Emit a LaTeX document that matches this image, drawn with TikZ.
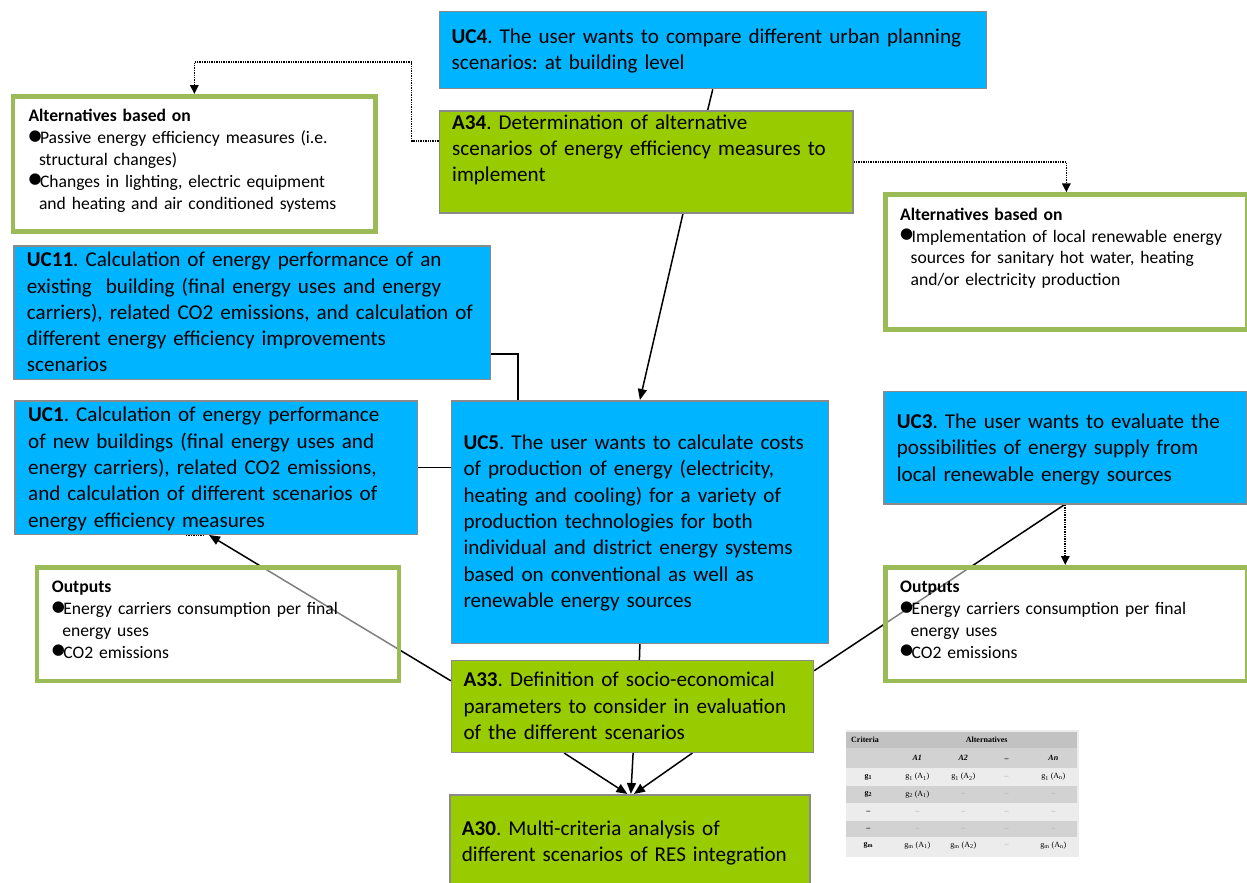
\documentclass[tikz,border=0pt]{standalone}
\usepackage{fontspec}
\setmainfont{Carlito}
\newfontfamily\symfont{DejaVu Sans}
\newfontfamily\tabfont{Liberation Serif}
\usetikzlibrary{arrows.meta}
\frenchspacing

\definecolor{ucblue}{RGB}{0,180,255}
\definecolor{actgreen}{RGB}{153,204,0}
\definecolor{edgegray}{RGB}{138,138,138}
\definecolor{notegreen}{RGB}{155,187,89}
\definecolor{hdrgray}{RGB}{194,194,194}
\definecolor{rowgray}{RGB}{210,210,210}
\definecolor{rowlight}{RGB}{236,236,236}
\definecolor{dashgray}{RGB}{165,165,165}

\pgfdeclarelayer{links}
\pgfsetlayers{links,main}

% first-line struts fix the top of each text block
\newcommand\firstbig{\rule{0pt}{18pt}}
\newcommand\firstsmall{\rule{0pt}{14.5pt}}
% bullets and hanging indent for the note boxes
\newcommand\blt{\makebox[11.5pt][l]{\raisebox{3.4pt}{\symfont\fontsize{15}{15}\selectfont ●}}}
\newcommand\bltin{\hspace*{10.5pt}}

\begin{document}
\begin{tikzpicture}[x=1pt,y=-1pt,
  every node/.style={inner sep=0pt},
  ucbox/.style={draw=edgegray, line width=1.5pt, fill=ucblue, anchor=north west},
  actbox/.style={draw=edgegray, line width=1.5pt, fill=actgreen, anchor=north west},
  altbox/.style={draw=notegreen, line width=4.7pt, fill=white, anchor=north west},
  outbox/.style={draw=notegreen, line width=4.7pt, fill=white, fill opacity=0.5, draw opacity=1, anchor=north west},
  bigtxt/.style={anchor=north west, align=left, text width=600pt, font=\fontsize{21.1}{26.3}\selectfont},
  smalltxt/.style={anchor=north west, align=left, text width=400pt, font=\fontsize{17.6}{21.8}\selectfont},
  link/.style={draw=black, line width=1.5pt},
  arrowlink/.style={link, -{Triangle[length=11pt,width=9pt]}},
  dotlink/.style={draw=black, line width=1.7pt, dash pattern=on 1.4pt off 1pt},
  dotarrow/.style={dotlink, -{Triangle[length=9pt,width=8.5pt]}},
  tabtxt/.style={font=\tabfont\fontsize{8}{9}\selectfont},
  tabhead/.style={font=\tabfont\bfseries\fontsize{8}{9}\selectfont},
  tabdash/.style={font=\tabfont\fontsize{8}{9}\selectfont, text=dashgray},
]
\useasboundingbox (0,0) rectangle (1247,883);
\clip (0,0) rectangle (1247,883);

% ---- use-case boxes (blue) ----
\node[ucbox, minimum width=547pt, minimum height=77pt] (uc4) at (438.5,10.8) {};
\node[bigtxt] (uc4-text) at (451.5,25) {\firstbig\textbf{UC4}. The user wants to compare different urban planning\\scenarios: at building level};

\node[ucbox, minimum width=476.5pt, minimum height=133.5pt] (uc11) at (13,245) {};
\node[bigtxt] (uc11-text) at (26.7,248.5) {\firstbig\textbf{UC11}. Calculation of energy performance of an\\existing\ \ building (final energy uses and energy\\carriers), related CO2 emissions, and calculation of\\different energy efficiency improvements\\scenarios};

\node[ucbox, minimum width=402.5pt, minimum height=133.5pt] (uc1) at (14,400) {};
\node[bigtxt] (uc1-text) at (28,403.7) {\firstbig\textbf{UC1}. Calculation of energy performance\\of new buildings (final energy uses and\\energy carriers), related CO2 emissions,\\and calculation of different scenarios of\\energy efficiency measures};

\node[ucbox, minimum width=376.7pt, minimum height=242.5pt] (uc5) at (450.8,400) {};
\node[bigtxt] (uc5-text) at (463.3,431.3) {\firstbig\textbf{UC5}. The user wants to calculate costs\\of production of energy (electricity,\\heating and cooling) for a variety of\\production technologies for both\\individual and district energy systems\\based on conventional as well as\\renewable energy sources};

\node[ucbox, minimum width=363pt, minimum height=112.5pt] (uc3) at (883,390.8) {};
\node[bigtxt] (uc3-text) at (896.7,410.3) {\firstbig\textbf{UC3}. The user wants to evaluate the\\possibilities of energy supply from\\local renewable energy sources};

% ---- activity boxes (green) ----
\node[actbox, minimum width=413.5pt, minimum height=102pt] (a34) at (438.5,110) {};
\node[bigtxt] (a34-text) at (452,111) {\firstbig\textbf{A34}. Determination of alternative\\scenarios of energy efficiency measures to\\implement};

\node[actbox, minimum width=361.7pt, minimum height=91.7pt] (a33) at (450.8,659.8) {};
\node[bigtxt] (a33-text) at (463.3,668.7) {\firstbig\textbf{A33}. Definition of socio-economical\\parameters to consider in evaluation\\of the different scenarios};

\node[actbox, minimum width=360.3pt, minimum height=100pt] (a30) at (449,794) {};
\node[bigtxt] (a30-text) at (461.7,817) {\firstbig\textbf{A30}. Multi-criteria analysis of\\different scenarios of RES integration};

% ---- note boxes ----
\node[altbox, minimum width=362.6pt, minimum height=135.3pt] (altL) at (10.7,94) {};
\node[smalltxt] (altL-text) at (28.3,107.2) {\firstsmall\textbf{Alternatives based on}\\\blt Passive energy efficiency measures (i.e.\\\bltin structural changes)\\\blt Changes in lighting, electric equipment\\\bltin and heating and air conditioned systems};

\node[altbox, minimum width=361.4pt, minimum height=134.7pt] (altR) at (883.3,192.3) {};
\node[smalltxt] (altR-text) at (900,205.5) {\firstsmall\textbf{Alternatives based on}\\\blt Implementation of local renewable energy\\\bltin sources for sanitary hot water, heating\\\bltin and/or electricity production};

\node[outbox, minimum width=362pt, minimum height=113.7pt] (outL) at (34.7,565) {};
\node[smalltxt] (outL-text) at (51.7,578.2) {\firstsmall\textbf{Outputs}\\\blt Energy carriers consumption per final\\\bltin energy uses\\\blt CO2 emissions};

\node[outbox, minimum width=361.4pt, minimum height=113.7pt] (outR) at (883.3,565) {};
\node[smalltxt] (outR-text) at (900,578.2) {\firstsmall\textbf{Outputs}\\\blt Energy carriers consumption per final\\\bltin energy uses\\\blt CO2 emissions};

% ---- connectors ----
\begin{pgfonlayer}{links}
  \draw[link] (uc4.south) -- ([xshift=61.7pt]a34.north);
  \draw[arrowlink] ([xshift=37pt]a34.south) -- (uc5.north);
  \draw[link] ([yshift=-41.5pt]uc11.east) -| ([xshift=-121.8pt]uc5.north);
  \draw[link] (uc1.east) -- (uc1.east -| uc5.west);
  \draw[arrowlink] ([yshift=25.6pt]a33.west) -- ([xshift=-7pt]uc1.south);
  \draw[dotlink] ([xshift=-30pt]uc1.south) -- ([xshift=-13pt]uc1.south);
  \draw[link] ([yshift=35.6pt]a33.east) -- ([xshift=-1pt]uc3.south);
  \draw[dotarrow] (uc3.south) -- (uc3.south |- outR.north);
  \draw[link] (uc5.south) -- ([xshift=7pt]a33.north);
  \draw[arrowlink] ([xshift=-68.3pt]a33.south) -- ([xshift=-2.5pt]a30.north);
  \draw[arrowlink] ([xshift=0.7pt]a33.south) -- ([xshift=1pt]a30.north);
  \draw[arrowlink] ([xshift=60pt]a33.south) -- ([xshift=4pt]a30.north);
  \draw[dotarrow] ([yshift=21pt]a34.west) -- ++(-27,0) -- ++(0,-79) -| (altL.north);
  \draw[dotarrow] (a34.east) -| (altR.north);
\end{pgfonlayer}

% ---- criteria / alternatives table ----
\fill[rowlight] (846,730) rectangle (1079,857);
\fill[hdrgray] (846,732.3) rectangle (1077.3,747.7);
\fill[rowgray] (846,747.7) rectangle (1077.3,768.3);
\fill[rowlight] (846,768.3) rectangle (1077.3,786);
\fill[rowgray] (846,786) rectangle (1077.3,803.3);
\fill[rowlight] (846,803.3) rectangle (1077.3,821);
\fill[rowgray] (846,821) rectangle (1077.3,836.7);
\fill[rowlight] (846,836.7) rectangle (1077.3,854.3);

\node[tabhead, anchor=west] (tab-crit) at (851,740) {Criteria};
\node[tabhead] (tab-alt) at (986.7,740) {Alternatives};
\node[tabhead] (tab-a1) at (917.3,758) {\itshape A1};
\node[tabhead] (tab-a2) at (963.3,758) {\itshape A2};
\node[tabhead] (tab-ad) at (1006.7,759) {\_};
\node[tabhead] (tab-an) at (1053.3,758) {\itshape An};

\node[tabhead] (tab-g1) at (868.3,777) {g\textsubscript{1}};
\node[tabtxt] (tab-g1a1) at (917.3,777) {g\textsubscript{1} (A\textsubscript{1})};
\node[tabtxt] (tab-g1a2) at (963.3,777) {g\textsubscript{1} (A\textsubscript{2})};
\node[tabdash] (tab-g1ad) at (1006.7,777) {–};
\node[tabtxt] (tab-g1an) at (1053.3,777) {g\textsubscript{1} (A\textsubscript{n})};

\node[tabhead] (tab-g2) at (868.3,794.6) {g\textsubscript{2}};
\node[tabtxt] (tab-g2a1) at (917.3,794.6) {g\textsubscript{2} (A\textsubscript{1})};
\node[tabdash] (tab-g2a2) at (963.3,794.6) {–};
\node[tabdash] (tab-g2ad) at (1006.7,794.6) {–};
\node[tabdash] (tab-g2an) at (1053.3,794.6) {–};

\node[tabhead] (tab-r3) at (868.3,812) {–};
\node[tabdash] (tab-r3a1) at (917.3,812) {–};
\node[tabdash] (tab-r3a2) at (963.3,812) {–};
\node[tabdash] (tab-r3ad) at (1006.7,812) {–};
\node[tabdash] (tab-r3an) at (1053.3,812) {–};

\node[tabhead] (tab-r4) at (868.3,829) {–};
\node[tabdash] (tab-r4a1) at (917.3,829) {–};
\node[tabdash] (tab-r4a2) at (963.3,829) {–};
\node[tabdash] (tab-r4ad) at (1006.7,829) {–};
\node[tabdash] (tab-r4an) at (1053.3,829) {–};

\node[tabhead] (tab-gm) at (868.3,845.5) {g\textsubscript{m}};
\node[tabtxt] (tab-gma1) at (917.3,845.5) {g\textsubscript{m} (A\textsubscript{1})};
\node[tabtxt] (tab-gma2) at (963.3,845.5) {g\textsubscript{m} (A\textsubscript{2})};
\node[tabdash] (tab-gmad) at (1006.7,845.5) {–};
\node[tabtxt] (tab-gman) at (1053.3,845.5) {g\textsubscript{m} (A\textsubscript{n})};
\end{tikzpicture}
\end{document}
